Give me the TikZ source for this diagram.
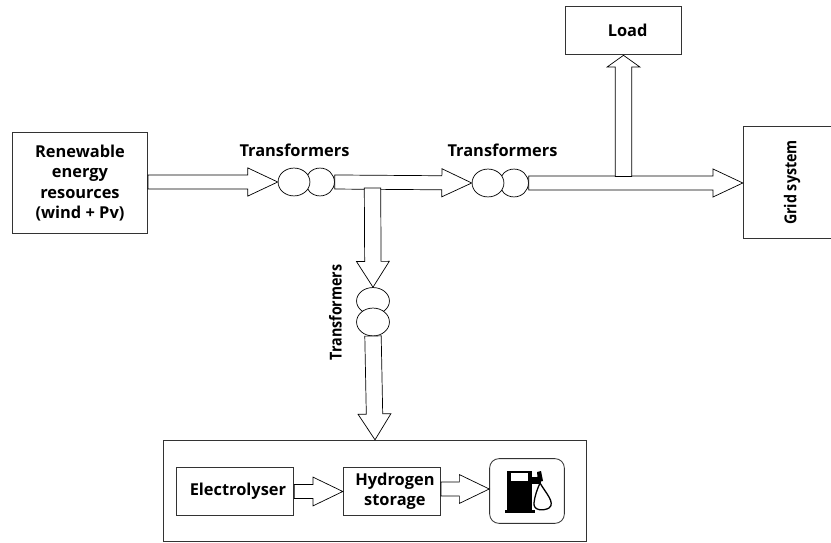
\documentclass[tikz,border=0pt]{standalone}
\usepackage{fontspec}
\usepackage{tikz}
\usetikzlibrary{calc,shapes.geometric}
\setmainfont{Open Sans}

\tikzset{
    bloco/.style={draw=black!80, line width=0.7pt, fill=white, align=center, font=\bfseries\fontsize{14}{17.4}\selectfont},
    bobina/.style={draw, fill=white, ellipse, minimum width=#1, inner sep=0pt, line width=0.6pt},
    rotulo/.style={font=\bfseries\fontsize{14}{16}\selectfont},
    seta/.style n args={3}{draw, fill=white, line width=0.6pt, to path={
        let \p1=(\tikztostart), \p2=(\tikztotarget),
            \n1={atan2(\y2-\y1,\x2-\x1)}, \n2={veclen(\x2-\x1,\y2-\y1)-#3} in
        ++(\n1+90:#1pt) -- ++(\n1:\n2) -- ++(\n1+90:#2pt-#1pt) -- (\tikztotarget)
        -- ($(\p1)+(\n1:\n2)+(\n1-90:#2pt)$) -- ++(\n1+90:#2pt-#1pt) -- ($(\p1)+(\n1-90:#1pt)$) -- cycle}},
    setagrande/.style={seta={6}{12}{25.5}},
    setavertical/.style={seta={7}{14}{22}},
}

\begin{document}
\begin{tikzpicture}[x=0.03cm, y=-0.03cm]
    \useasboundingbox (0,0) rectangle (831,543);

    % Blocos
    \node[bloco, minimum width=136*0.85pt, minimum height=102*0.85pt] (fontes) at (80,183)
        {Renewable\\energy\\resources\\(wind + Pv)};
    \node[bloco, minimum width=117*0.85pt, minimum height=49*0.85pt] (load) at (623.5,30.5) {\hspace{7pt}Load};
    \node[bloco, minimum width=130*0.85pt, minimum height=98*0.85pt, rotate=90, xscale=0.87] (grid) at (792,182.5) {Grid system};
    \node[bloco, minimum width=424*0.85pt, minimum height=102*0.85pt] (estacao) at (375,491) {};
    \node[bloco, minimum width=118*0.85pt, minimum height=49*0.85pt] (eletro) at (235,491.5) {\hspace{5pt}Electrolyser};
    \node[bloco, minimum width=98*0.85pt, minimum height=49*0.85pt] (tanque) at (392,491.5) {\hspace{5pt}Hydrogen\\\hspace{5pt}storage};
    \node[draw=black!80, line width=0.7pt, rounded corners=8pt, minimum width=75*0.85pt, minimum height=65*0.85pt] (bomba) at (527,491) {};

    % Transformadores
    \node[bobina=29*0.85pt, minimum height=28*0.85pt] (t1b) at (320,182) {};
    \node[bobina=32*0.85pt, minimum height=28*0.85pt] (t1a) at (294,182) {};
    \node[bobina=29*0.85pt, minimum height=28*0.85pt] (t2b) at (514,183) {};
    \node[bobina=32*0.85pt, minimum height=28*0.85pt] (t2a) at (488,183) {};
    \node[bobina=33*0.85pt, minimum height=27*0.85pt] (t3a) at (373,301) {};
    \node[bobina=33*0.85pt, minimum height=28*0.85pt] (t3b) at (373,322) {};

    % Rotulos
    \node[rotulo] (rt1) at (294.5,150) {Transformers};
    \node[rotulo] (rt2) at (502.5,150) {Transformers};
    \node[rotulo, rotate=90, xscale=0.87] (rt3) at (335.5,312.5) {Transformers};

    % Pontos de partida das setas
    \coordinate (ini1) at (148,182);
    \coordinate (ini2) at (372.5,188);
    \coordinate (ini3) at (373,336);
    \coordinate (ini4) at (623.5,176.5);
    \coordinate (ini5) at (441,489);

    % Setas
    \draw[setagrande] (ini1) to (t1a.west);
    \draw[setagrande] (t1b.east) to (t2a.west);
    \draw[setagrande] (t2b.east) to (grid.north |- t2b.east);
    \draw[setavertical] (ini2) to (t3a.north);
    \draw[setavertical] (ini3) to (estacao.north);
    \draw[seta={7}{14}{10}] (ini4) to (load.south -| ini4);
    \draw[seta={6}{12.3}{25.5}] (eletro.east) to (tanque.west);
    \draw[seta={6}{12.3}{25.5}] (ini5) to (bomba.west |- ini5);

    % Bomba de combustivel
    \fill (507,471) rectangle (532,510);
    \fill (505,510) rectangle (535,513);
    \fill[white] (511,473.5) rectangle (528,481);
    \fill (532,477) rectangle (541,484);
    \fill (537,472) -- (541,471) -- (543,481) -- (538,482) -- cycle;
    \draw[line width=1.1pt, line join=round] (540,483) .. controls (545,492) and (556,503) .. (549,508)
        .. controls (544,511) and (533,511) .. (534,503) .. controls (535,495) and (537,490) .. (540,483);
\end{tikzpicture}
\end{document}
